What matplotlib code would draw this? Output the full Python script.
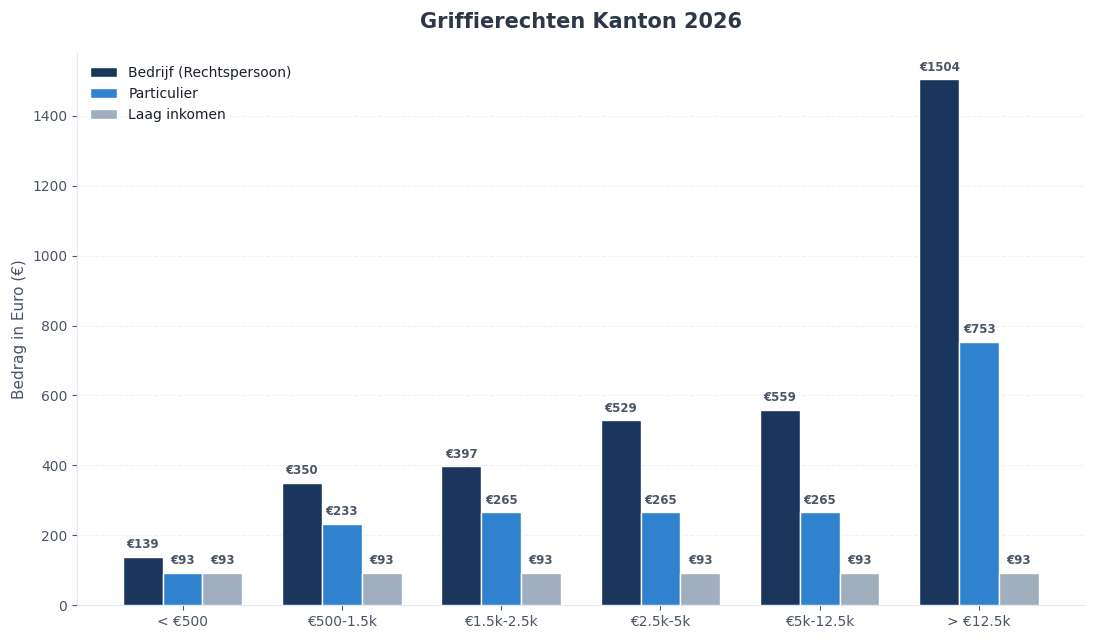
import numpy as np
import matplotlib.pyplot as plt

categories = ['< €500', '€500-1.5k', '€1.5k-2.5k', '€2.5k-5k', '€5k-12.5k', '> €12.5k']
bedrijf = [139, 350, 397, 529, 559, 1504]
particulier = [93, 233, 265, 265, 265, 753]
laag = [93, 93, 93, 93, 93, 93]

series = [
    ('Bedrijf (Rechtspersoon)', bedrijf, '#1a365d'),
    ('Particulier', particulier, '#3182ce'),
    ('Laag inkomen', laag, '#a0aec0'),
]

fig = plt.figure(figsize=(11, 6.41), dpi=100)
ax = fig.add_axes([0.07, 0.056, 0.916, 0.861])

x = np.arange(len(categories))
w = 0.25
for i, (name, vals, col) in enumerate(series):
    bars = ax.bar(x + (i - 1) * w, vals, w, label=name, color=col,
                  edgecolor='white', linewidth=1, zorder=3)
    for b, v in zip(bars, vals):
        ax.annotate(f'€{v}', (b.get_x() + b.get_width() / 2, v),
                    xytext=(0, 4), textcoords='offset points',
                    ha='center', va='bottom', fontsize=8.5,
                    fontweight='bold', color='#4a5568')

ax.set_xticks(x)
ax.set_xticklabels(categories)
ax.set_ylabel('Bedrag in Euro (€)', fontsize=11, color='#4a5568')
ax.set_title('Griffierechten Kanton 2026', fontsize=15, fontweight='bold',
             color='#2d3748', pad=18)
ax.tick_params(colors='#4a5568', labelsize=10)
for s in ['top', 'right']:
    ax.spines[s].set_visible(False)
for s in ['left', 'bottom']:
    ax.spines[s].set_color('#e2e8f0')
ax.grid(axis='y', linestyle='--', color='#edf2f7', linewidth=0.8, zorder=0)
leg = ax.legend(loc='upper left', frameon=False, fontsize=10)
for t in leg.get_texts():
    t.set_color('#1a202c')

fig.savefig('out.png', dpi=100)
